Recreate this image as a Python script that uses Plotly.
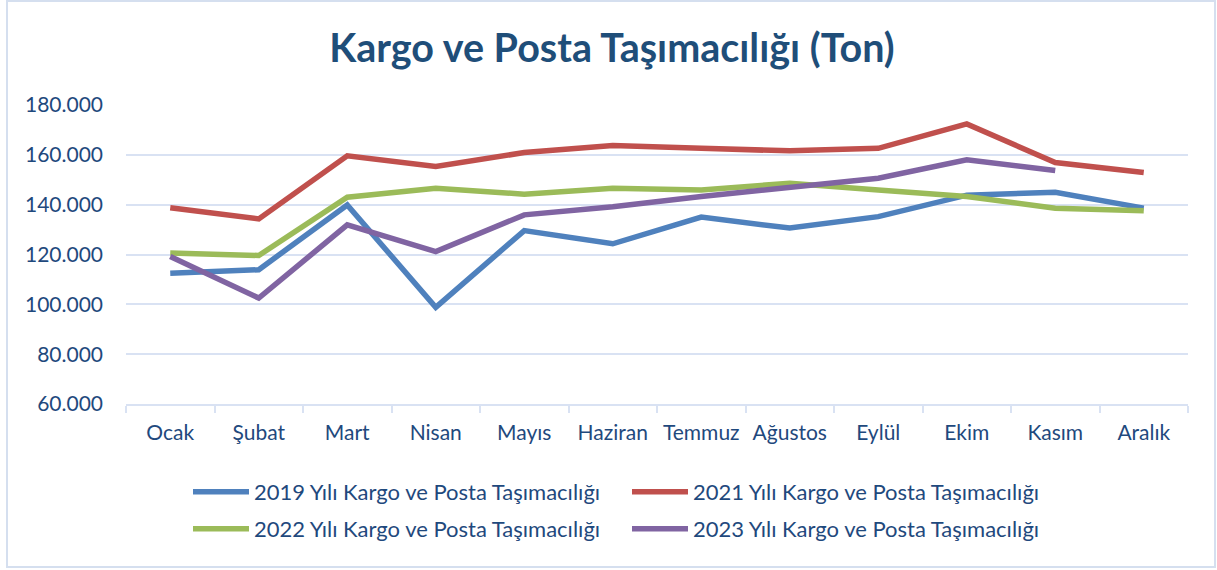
import plotly.graph_objects as go

months = ["Ocak", "Şubat", "Mart", "Nisan", "Mayıs", "Haziran", "Temmuz",
          "Ağustos", "Eylül", "Ekim", "Kasım", "Aralık"]

y2019 = [112.5, 113.9, 139.9, 98.8, 129.6, 124.3, 135.0, 130.6, 135.2, 143.8, 145.0, 138.6]
y2021 = [138.8, 134.3, 159.6, 155.3, 160.9, 163.7, 162.6, 161.6, 162.6, 172.4, 156.9, 152.9]
y2022 = [120.6, 119.6, 143.0, 146.6, 144.2, 146.6, 145.9, 148.6, 145.9, 143.3, 138.6, 137.6]
y2023 = [119.2, 102.5, 131.9, 121.2, 135.9, 139.2, 143.3, 147.0, 150.6, 158.0, 153.7, None]

tick_vals = [60, 80, 100, 120, 140, 160, 180]
tick_text = ["60.000", "80.000", "100.000", "120.000", "140.000", "160.000", "180.000"]

series = [
    ("2019 Yılı Kargo ve Posta Taşımacılığı", y2019, "#4F81BD", "legend"),
    ("2021 Yılı Kargo ve Posta Taşımacılığı", y2021, "#C0504D", "legend"),
    ("2022 Yılı Kargo ve Posta Taşımacılığı", y2022, "#9BBB59", "legend2"),
    ("2023 Yılı Kargo ve Posta Taşımacılığı", y2023, "#8064A2", "legend2"),
]

FONT = "Lato, Carlito, Calibri, sans-serif"
TXT = "#1F497D"
GRID = "#D9E2F3"

fig = go.Figure()
for name, vals, color, leg in series:
    fig.add_trace(go.Scatter(
        x=months, y=vals, name=name, mode="lines",
        line=dict(color=color, width=5.5),
        connectgaps=False, legend=leg,
    ))

W, H = 1217, 570
L, R, T, B = 126, 29, 105, 166
pw, ph = W - L - R, H - T - B

def px_x(x):
    return (x - L) / pw

def px_y(y):
    return (H - B - y) / ph

legend_common = dict(
    orientation="h", xanchor="left", yanchor="middle",
    font=dict(family=FONT, size=22, color=TXT),
    entrywidth=368, entrywidthmode="pixels",
    bgcolor="rgba(0,0,0,0)", itemwidth=56,
)

fig.update_layout(
    width=W, height=H,
    margin=dict(l=L, r=R, t=T, b=B),
    paper_bgcolor="white", plot_bgcolor="white",
    title=dict(
        text="<b>Kargo ve Posta Taşımacılığı (Ton)</b>",
        x=612 / W, xref="container", xanchor="center",
        y=1 - 48 / H, yanchor="middle",
        font=dict(family=FONT, size=39.5, color="#1F4E79"),
    ),
    xaxis=dict(
        type="category", range=[-0.5, 11.5],
        showgrid=False, showline=True, linecolor=GRID, linewidth=2,
        ticks="outside", tickson="boundaries", ticklen=7, tickcolor=GRID, tickwidth=2,
        tickfont=dict(family=FONT, size=21, color=TXT), tickangle=0,
        ticklabelstandoff=9,
        zeroline=False, fixedrange=True,
    ),
    yaxis=dict(
        range=[60, 180], tickvals=tick_vals, ticktext=tick_text,
        showgrid=True, gridcolor=GRID, gridwidth=2,
        showline=False, zeroline=False, ticks="",
        tickfont=dict(family=FONT, size=21, color=TXT),
        ticklabelstandoff=22,
    ),
    legend=dict(x=px_x(188), y=px_y(492), **legend_common),
    legend2=dict(x=px_x(188), y=px_y(529), **legend_common),
    shapes=[dict(
        type="rect", xref="paper", yref="paper",
        x0=px_x(7), x1=px_x(1215), y0=px_y(567), y1=px_y(1),
        line=dict(color="#D5DFEF", width=2), fillcolor="rgba(0,0,0,0)", layer="below",
    )],
)

fig.write_html("out.html")
